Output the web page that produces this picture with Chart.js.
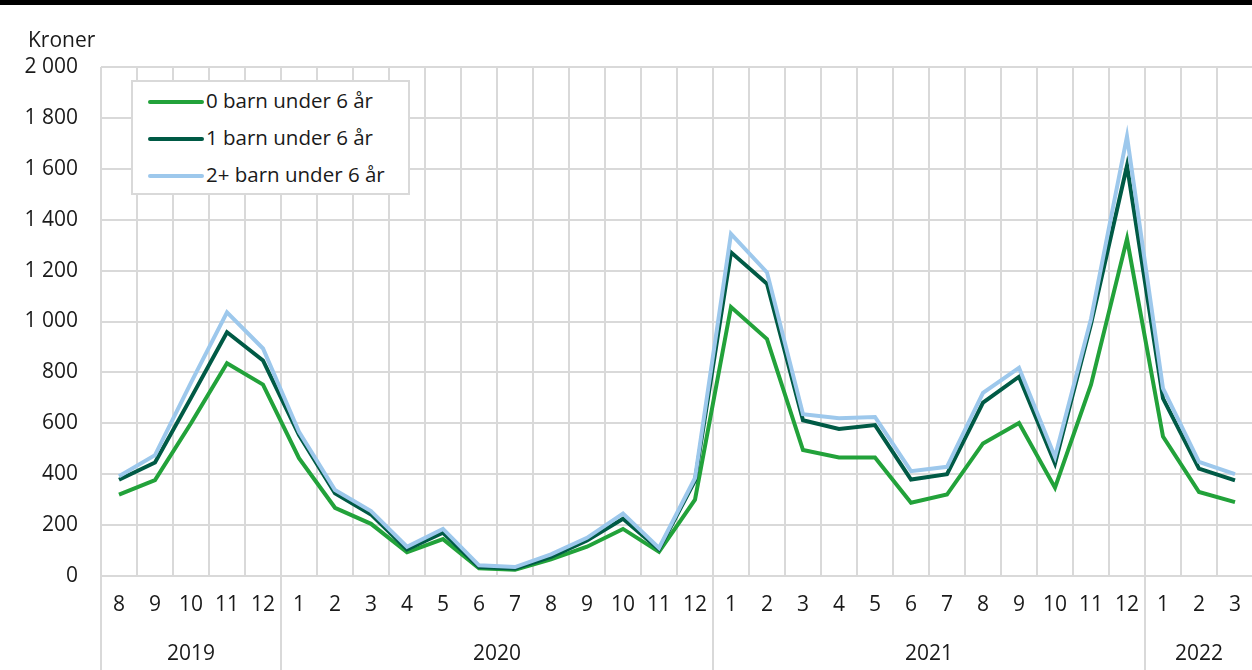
<!DOCTYPE html>
<html><head><meta charset="utf-8">
<script src="https://cdn.jsdelivr.net/npm/chart.js@4.4.1/dist/chart.umd.min.js"></script>
<style>
html,body{margin:0;padding:0;background:#fff;}
#wrap{position:relative;width:1252px;height:670px;overflow:hidden;font-family:"Open Sans",sans-serif;color:#1a1a1a;}
#topbar{position:absolute;left:0;top:0;width:1252px;height:5px;background:#000;z-index:2;}
#unit{position:absolute;left:28px;top:25px;font-size:21px;line-height:28px;z-index:2;}
#legend{position:absolute;left:131px;top:80px;width:275px;height:111px;border:2px solid #d9d9d9;background:#fff;z-index:2;}
.item{position:absolute;left:15px;height:28px;font-size:20.5px;line-height:28px;white-space:nowrap;}
.item span.ln{display:inline-block;width:56px;height:4px;border-radius:2px;vertical-align:middle;margin-right:2px;position:relative;top:-1px;}
canvas{position:absolute;left:0;top:0;}
</style></head>
<body>
<div id="wrap">
<div id="topbar"></div>
<div id="unit">Kroner</div>
<div id="legend"></div>
<canvas id="c" width="1257" height="670"></canvas>
</div>
<script>
const months = ['8','9','10','11','12',
  '1','2','3','4','5','6','7','8','9','10','11','12',
  '1','2','3','4','5','6','7','8','9','10','11','12',
  '1','2','3'];
const yearLabels = ['2019','2020','2021','2022'];
const yearSpans = [5,12,12,3];
const seriesNames = ['0 barn under 6 år','1 barn under 6 år','2+ barn under 6 år'];
const seriesColors = ['#22A23A','#005A45','#9DC8EC'];
const barn0 = [320,377,600,836,752,
  463,268,205,93,145,30,25,65,115,185,95,300,
  1057,931,495,466,466,288,320,521,601,347,752,1325,
  548,330,290];
const barn1 = [378,446,700,958,847,
  554,325,242,105,170,35,30,75,140,225,105,375,
  1272,1148,612,578,593,379,400,681,783,442,990,1612,
  698,422,376];
const barn2 = [392,475,760,1036,894,
  567,338,255,115,185,42,35,85,150,245,110,385,
  1344,1193,636,620,625,412,429,720,818,468,1010,1727,
  737,448,400];
const yTicks = [0,200,400,600,800,1000,1200,1400,1600,1800,2000];

function fmt(v){ return String(v).replace(/\B(?=(\d{3})+(?!\d))/g,' '); }

// legend
const lg = document.getElementById('legend');
seriesNames.forEach((n,i)=>{
  const d = document.createElement('div');
  d.className='item';
  d.style.top = (4 + i*37) + 'px';
  d.innerHTML = '<span class="ln" style="background:'+seriesColors[i]+'"></span>'+n;
  lg.appendChild(d);
});

const yearPlugin = {
  id:'years',
  afterDraw(chart){
    const x = chart.scales.x, ca = chart.chartArea, ctx = chart.ctx;
    ctx.save();
    ctx.strokeStyle = '#d9d9d9'; ctx.lineWidth = 2;
    ctx.fillStyle = '#1a1a1a';
    ctx.font = '21px "Open Sans"';
    ctx.textAlign = 'center'; ctx.textBaseline = 'middle';
    let start = 0;
    yearSpans.forEach((span,k)=>{
      const end = start + span - 1;
      const l = start === 0 ? ca.left : (x.getPixelForValue(start-1)+x.getPixelForValue(start))/2;
      const r = end === months.length-1 ? ca.right : (x.getPixelForValue(end)+x.getPixelForValue(end+1))/2;
      ctx.beginPath(); ctx.moveTo(l, ca.bottom); ctx.lineTo(l, chart.height); ctx.stroke();
      ctx.fillText(yearLabels[k], (l+r)/2, 654);
      start += span;
    });
    ctx.restore();
  }
};

const datasets = [barn0,barn1,barn2].map((d,i)=>({
  label: seriesNames[i], data: d, borderColor: seriesColors[i], backgroundColor: seriesColors[i],
  borderWidth: 4, pointRadius: 0, tension: 0, fill:false, order: 3-i
}));

new Chart(document.getElementById('c'), {
  type:'line',
  data:{ labels: months, datasets },
  options:{
    responsive:false, animation:false,
    layout:{ padding:{ top:67, right:0, bottom:0, left:0 } },
    plugins:{ legend:{display:false}, tooltip:{enabled:false} },
    scales:{
      x:{
        type:'category', offset:true,
        grid:{ offset:true, color:'#d9d9d9', lineWidth:2, drawTicks:false },
        border:{ display:true, color:'#d9d9d9', width:2 },
        ticks:{ padding:16, autoSkip:false, maxRotation:0, color:'#1a1a1a', font:{ family:'"Open Sans"', size:21 } },
        afterFit(s){ s.height = 94; }
      },
      y:{
        min:0, max:2000,
        afterBuildTicks(s){ s.ticks = yTicks.map(v=>({value:v})); },
        grid:{ color:'#d9d9d9', lineWidth:2, drawTicks:false },
        border:{ display:false },
        ticks:{ padding:23, color:'#1a1a1a', font:{ family:'"Open Sans"', size:21 }, callback:(v)=>fmt(v) },
        afterFit(s){ s.width = 101; }
      }
    }
  },
  plugins:[yearPlugin]
});
</script>
</body></html>
